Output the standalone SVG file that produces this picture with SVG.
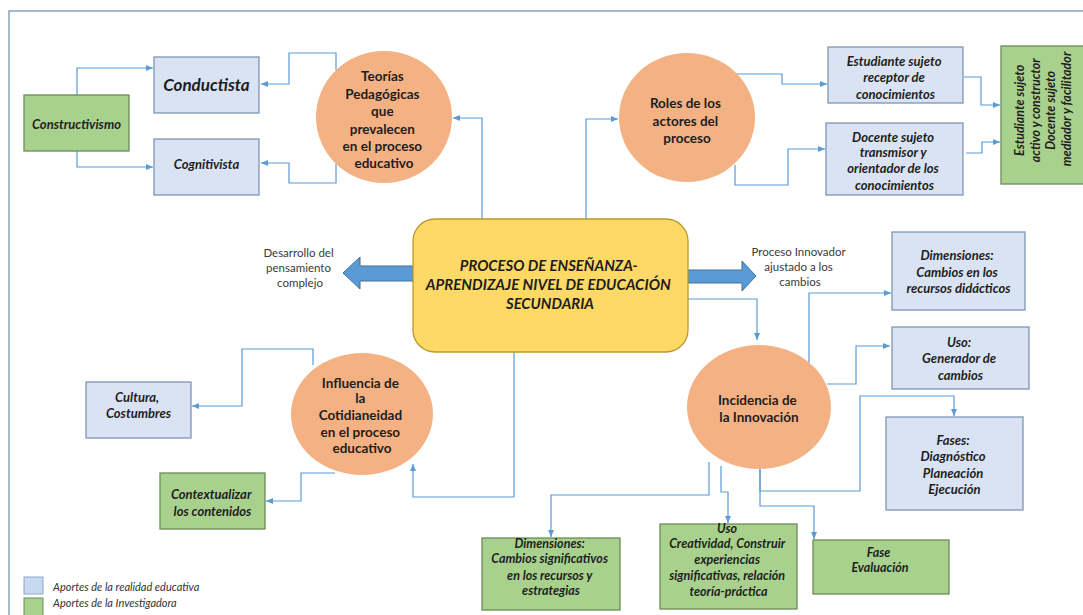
<svg xmlns="http://www.w3.org/2000/svg" width="1083" height="615" viewBox="0 0 1083 615">
<style>
.t{font-family:Lato,"Liberation Sans",sans-serif;fill:#1e1e1e;text-anchor:middle}
.b{font-weight:bold}
.bi{font-weight:bold;font-style:italic}
.lbl{font-family:Lato,"Liberation Sans",sans-serif;fill:#3a3a3a;font-size:11.5px;text-anchor:middle}
.blue{fill:#DAE3F3;stroke:#7F96B2;stroke-width:1.3}
.green{fill:#A9D18E;stroke:#6B8B58;stroke-width:1.3}
.circ{fill:#F4B183;stroke:none}
.con{fill:none;stroke:#5B9BD5;stroke-width:1.2}
.arr{marker-end:url(#ah)}
.big{fill:#5B9BD5;stroke:#41719C;stroke-width:1}
</style>
<defs>
<marker id="ah" markerUnits="userSpaceOnUse" markerWidth="8" markerHeight="8" refX="7" refY="4" orient="auto">
<path d="M0,1 L7,4 L0,7 Z" fill="#5B9BD5"/>
</marker>
</defs>
<rect width="1083" height="615" fill="#ffffff"/>
<rect x="9" y="11" width="1090" height="620" fill="none" stroke="#8aa4b8" stroke-width="1.5"/>

<g id="connectors">
<path class="con arr" d="M336,70 V53 H289 V84 H261"/>
<path class="con arr" d="M336,164 V183 H289 V163 H261"/>
<path class="con arr" d="M77,95 V68 H153"/>
<path class="con arr" d="M77,151 V167 H153"/>
<path class="con arr" d="M482,219 V118 H453"/>
<path class="con arr" d="M586,219 V119 H618"/>
<path class="con arr" d="M735,74 H782 V84 H827"/>
<path class="con arr" d="M735,165 V185 H788 V149 H825"/>
<path class="con arr" d="M964,77 H981 V105 H1000"/>
<path class="con arr" d="M966,153 H982 V142 H1000"/>
<path class="con arr" d="M688,299 H757 V340"/>
<path class="con arr" d="M809,363 V293 H891"/>
<path class="con arr" d="M827,384 H856 V346 H890"/>
<path class="con arr" d="M760,466 V491 H860 V396 H954 V416"/>
<path class="con arr" d="M760,466 V506 H814 V539"/>
<path class="con arr" d="M721,466 V492 H728 V523"/>
<path class="con arr" d="M709,462 V495 H551 V537"/>
<path class="con arr" d="M514,352 V497 H413 V464"/>
<path class="con arr" d="M313,365 V349 H242 V406 H192"/>
<path class="con arr" d="M335,473 H301 V501 H266"/>
<polygon class="big" points="343,273 360,257 360,266 413,266 413,281 360,281 360,289"/>
<polygon class="big" points="756,276 742,261 742,270 688,270 688,283 742,283 742,291"/>
</g>

<g id="n-central">
<rect x="413" y="219" width="275" height="133" rx="22" fill="#FFD966" stroke="#B99A2E" stroke-width="1.3"/>
<text class="t bi" font-size="16">
<tspan x="550.5" y="271" textLength="178" lengthAdjust="spacingAndGlyphs">PROCESO DE ENSEÑANZA-</tspan>
<tspan x="550" y="290" textLength="245" lengthAdjust="spacingAndGlyphs">APRENDIZAJE  NIVEL DE EDUCACIÓN</tspan>
<tspan x="550" y="309" textLength="88" lengthAdjust="spacingAndGlyphs">SECUNDARIA</tspan>
</text>
</g>

<g id="n-teorias">
<ellipse class="circ" cx="384" cy="117" rx="68" ry="66"/>
<text class="t b" font-size="13.5">
<tspan x="384" y="81">Teorías</tspan>
<tspan x="384" y="98.5">Pedagógicas</tspan>
<tspan x="384" y="116">que</tspan>
<tspan x="384" y="133.5">prevalecen</tspan>
<tspan x="384" y="151">en el proceso</tspan>
<tspan x="384" y="168">educativo</tspan>
</text>
</g>

<g id="n-conductista">
<rect class="blue" x="154" y="57" width="105" height="56"/>
<text class="t bi" font-size="17" x="206.5" y="91">Conductista</text>
</g>

<g id="n-cognitivista">
<rect class="blue" x="154" y="139" width="105" height="56"/>
<text class="t bi" font-size="13" x="206.5" y="168.5">Cognitivista</text>
</g>

<g id="n-constructivismo">
<rect class="green" x="24" y="95" width="105" height="56"/>
<text class="t bi" font-size="13" x="76.5" y="128.5">Constructivismo</text>
</g>

<g id="n-roles">
<ellipse class="circ" cx="687" cy="117.5" rx="68" ry="64.5"/>
<text class="t b" font-size="13.5">
<tspan x="687" y="108">Roles de los</tspan>
<tspan x="687" y="125.5">actores del</tspan>
<tspan x="687" y="142.5">proceso</tspan>
</text>
</g>

<g id="n-estudiante">
<rect class="blue" x="828" y="47" width="135" height="56"/>
<text class="t bi" font-size="13">
<tspan x="895.5" y="66">Estudiante sujeto</tspan>
<tspan x="895.5" y="82">receptor de</tspan>
<tspan x="895.5" y="99">conocimientos</tspan>
</text>
</g>

<g id="n-docente">
<rect class="blue" x="826" y="123" width="137" height="72"/>
<text class="t bi" font-size="13">
<tspan x="894.5" y="141.5">Docente sujeto</tspan>
<tspan x="894.5" y="157">transmisor y</tspan>
<tspan x="894.5" y="173">orientador de los</tspan>
<tspan x="894.5" y="189.5">conocimientos</tspan>
</text>
</g>

<g id="n-roles-aporte">
<rect class="green" x="1001" y="46" width="100" height="138"/>
<g transform="translate(1043,109) rotate(-90)">
<text class="t bi" font-size="12.5">
<tspan x="0" y="-19.5">Estudiante sujeto</tspan>
<tspan x="0" y="-3.5">activo y constructor</tspan>
<tspan x="0" y="11.5">Docente sujeto</tspan>
<tspan x="0" y="27.5">mediador y facilitador</tspan>
</text>
</g>
</g>

<g id="n-desarrollo">
<text class="lbl">
<tspan x="300" y="257">Desarrollo del</tspan>
<tspan x="300" y="272">pensamiento</tspan>
<tspan x="300" y="287">complejo</tspan>
</text>
</g>

<g id="n-innovador">
<text class="lbl">
<tspan x="800" y="256">Proceso Innovador</tspan>
<tspan x="800" y="271">ajustado a los</tspan>
<tspan x="800" y="286">cambios</tspan>
</text>
</g>

<g id="n-incidencia">
<ellipse class="circ" cx="759" cy="407" rx="72" ry="62"/>
<text class="t b" font-size="13.5">
<tspan x="759" y="405">Incidencia de</tspan>
<tspan x="759" y="422">la Innovación</tspan>
</text>
</g>

<g id="n-dimensiones">
<rect class="blue" x="892" y="232" width="133" height="78"/>
<text class="t bi" font-size="13">
<tspan x="958.5" y="260">Dimensiones:</tspan>
<tspan x="958.5" y="277">Cambios  en los</tspan>
<tspan x="958.5" y="293">recursos didácticos</tspan>
</text>
</g>

<g id="n-uso">
<rect class="blue" x="892" y="327" width="137" height="62"/>
<text class="t bi" font-size="13">
<tspan x="960.5" y="346.5">Uso:</tspan>
<tspan x="960.5" y="362.5">Generador  de</tspan>
<tspan x="960.5" y="379.5">cambios</tspan>
</text>
</g>

<g id="n-fases">
<rect class="blue" x="886" y="417" width="137" height="93"/>
<text class="t bi" font-size="13">
<tspan x="954.5" y="444.5">Fases:</tspan>
<tspan x="954.5" y="460.5">Diagnóstico</tspan>
<tspan x="954.5" y="477.5">Planeación</tspan>
<tspan x="954.5" y="493.5">Ejecución</tspan>
</text>
</g>

<g id="n-dim-green">
<rect class="green" x="482" y="538" width="138" height="72"/>
<text class="t bi" font-size="12.5">
<tspan x="551" y="547.5">Dimensiones:</tspan>
<tspan x="551" y="562.5">Cambios significativos</tspan>
<tspan x="551" y="579.5">en los recursos y</tspan>
<tspan x="551" y="594.5">estrategias</tspan>
</text>
</g>

<g id="n-uso-green">
<rect class="green" x="660" y="524" width="137" height="85"/>
<text class="t bi" font-size="12.5">
<tspan x="728.5" y="533">Uso</tspan>
<tspan x="728.5" y="548">Creatividad, Construir</tspan>
<tspan x="728.5" y="564">experiencias</tspan>
<tspan x="728.5" y="580">significativas, relación</tspan>
<tspan x="728.5" y="596">teoría-práctica</tspan>
</text>
</g>

<g id="n-fase-eval">
<rect class="green" x="813" y="540" width="136" height="54"/>
<text class="t bi" font-size="12.5">
<tspan x="880" y="556.5">Fase</tspan>
<tspan x="880" y="571.5">Evaluación</tspan>
</text>
</g>

<g id="n-influencia">
<ellipse class="circ" cx="362" cy="414" rx="71" ry="61"/>
<text class="t b" font-size="13.5">
<tspan x="362" y="387.5">Influencia de</tspan>
<tspan x="362" y="403">la</tspan>
<tspan x="362" y="420">Cotidianeidad</tspan>
<tspan x="362" y="437">en el proceso</tspan>
<tspan x="362" y="453">educativo</tspan>
</text>
</g>

<g id="n-cultura">
<rect class="blue" x="86" y="382" width="105" height="56"/>
<text class="t bi" font-size="13">
<tspan x="138.5" y="401.5">Cultura,</tspan>
<tspan x="138.5" y="417.5">Costumbres</tspan>
</text>
</g>

<g id="n-contextualizar">
<rect class="green" x="160" y="473" width="105" height="56"/>
<text class="t bi" font-size="13">
<tspan x="212.5" y="498.5">Contextualizar</tspan>
<tspan x="212.5" y="515.5">los contenidos</tspan>
</text>
</g>

<g id="legend">
<rect x="24" y="577" width="19" height="17" fill="#C5D9F1" stroke="#8FA7C0" stroke-width="1"/>
<rect x="24" y="598" width="19" height="20" fill="#A9D18E" stroke="#6B8B58" stroke-width="1"/>
<text font-family="Lato,'Liberation Sans',sans-serif" font-style="italic" font-size="11" fill="#333">
<tspan x="53" y="591">Aportes de la realidad educativa</tspan>
<tspan x="53" y="607">Aportes de la Investigadora</tspan>
</text>
</g>
</svg>
